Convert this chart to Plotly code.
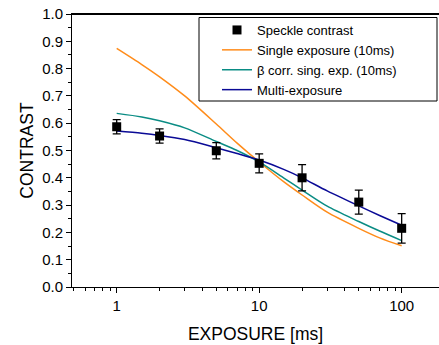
import plotly.graph_objects as go

# Measured data (speckle contrast vs exposure)
exposure_pts = [1, 2, 5, 10, 20, 50, 100]
contrast_pts = [0.587, 0.553, 0.499, 0.453, 0.400, 0.311, 0.215]
contrast_err = [0.026, 0.026, 0.030, 0.035, 0.048, 0.044, 0.054]

# Model curves
exposure_curve = [1, 1.5, 2, 3, 5, 7, 10, 15, 20, 30, 50, 70, 100]
single_exp = [0.874, 0.815, 0.770, 0.700, 0.597, 0.527, 0.458, 0.384, 0.337, 0.274, 0.215, 0.180, 0.151]
beta_corr = [0.636, 0.623, 0.609, 0.583, 0.533, 0.500, 0.458, 0.398, 0.355, 0.296, 0.240, 0.205, 0.170]
multi_exp = [0.571, 0.563, 0.555, 0.540, 0.510, 0.489, 0.465, 0.430, 0.400, 0.352, 0.297, 0.262, 0.226]

x_major = [1, 10, 100]
x_major_text = ["1", "10", "100"]
x_minor = [0.5, 0.6, 0.7, 0.8, 0.9, 2, 3, 4, 5, 6, 7, 8, 9,
           20, 30, 40, 50, 60, 70, 80, 90, 200]
y_ticks = [0.0, 0.1, 0.2, 0.3, 0.4, 0.5, 0.6, 0.7, 0.8, 0.9, 1.0]

FONT = "Liberation Sans, Arial, sans-serif"

fig = go.Figure()
fig.add_trace(go.Scatter(x=exposure_curve, y=single_exp, mode="lines",
                         name="Single exposure (10ms)", legendrank=2,
                         line=dict(color="#ff8c1a", width=1.5, shape="spline", smoothing=0.8)))
fig.add_trace(go.Scatter(x=exposure_curve, y=beta_corr, mode="lines",
                         name="\u03b2 corr. sing. exp. (10ms)", legendrank=3,
                         line=dict(color="#0a8c84", width=1.5, shape="spline", smoothing=0.8)))
fig.add_trace(go.Scatter(x=exposure_curve, y=multi_exp, mode="lines",
                         name="Multi-exposure", legendrank=4,
                         line=dict(color="#0a0a96", width=1.5, shape="spline", smoothing=0.8)))
fig.add_trace(go.Scatter(x=exposure_pts, y=contrast_pts, mode="markers",
                         name="Speckle contrast", legendrank=1,
                         marker=dict(symbol="square", size=9, color="black"),
                         error_y=dict(type="data", array=contrast_err, color="black",
                                      thickness=1.3, width=4)))

W, H = 439, 345
L, R, T, B = 72, 0, 14, 58
pw = W - L - R
ph = H - T - B

def px_x(p):
    return (p - L) / pw

def px_y(p):
    return 1 - (p - T) / ph

# top frame line of the plot box
fig.add_shape(type="line", xref="paper", yref="paper", x0=0, x1=1,
              y0=px_y(14.5), y1=px_y(14.5),
              line=dict(color="black", width=1.1), layer="above")
# legend frame
fig.add_shape(type="rect", xref="paper", yref="paper",
              x0=px_x(199), x1=px_x(437), y0=px_y(101), y1=px_y(17.5),
              line=dict(color="black", width=1), fillcolor="white", layer="above")

fig.update_layout(
    width=W, height=H,
    margin=dict(l=L, r=R, t=T, b=B, autoexpand=False),
    paper_bgcolor="white", plot_bgcolor="white",
    font=dict(family=FONT, color="black", size=14),
    showlegend=True,
    legend=dict(x=px_x(217), y=px_y(15), xanchor="left", yanchor="top",
                bgcolor="rgba(0,0,0,0)", borderwidth=0,
                font=dict(family=FONT, size=13, color="black"),
                tracegroupgap=0),
    xaxis=dict(type="log", range=[-0.3137, 2.262], automargin=False,
               tickvals=x_major, ticktext=x_major_text,
               ticks="outside", ticklen=5, tickwidth=1, tickcolor="black",
               minor=dict(tickvals=x_minor, ticks="outside", ticklen=3,
                          tickwidth=1, tickcolor="black", showgrid=False),
               showline=True, linecolor="black", linewidth=1, mirror=True,
               showgrid=False, zeroline=False, ticklabeloverflow="allow",
               tickfont=dict(family=FONT, size=15),
               title=dict(text="EXPOSURE [ms]", font=dict(family=FONT, size=17.5),
                          standoff=14)),
    yaxis=dict(range=[0, 1], tickvals=y_ticks, tickformat=".1f", automargin=False,
               ticks="outside", ticklen=5, tickwidth=1, tickcolor="black",
               minor=dict(dtick=0.05, ticks="outside", ticklen=3,
                          tickwidth=1, tickcolor="black", showgrid=False),
               showline=True, linecolor="black", linewidth=1, mirror=False,
               showgrid=False, zeroline=False, ticklabeloverflow="allow",
               tickfont=dict(family=FONT, size=15),
               title=dict(text="CONTRAST", font=dict(family=FONT, size=17.5),
                          standoff=4)),
)

# remove the default 8px page margin so the figure sits at the window origin
fig.write_html("out.html", config={"displayModeBar": False},
               post_script="document.body.style.margin='0';document.body.style.padding='0';")
